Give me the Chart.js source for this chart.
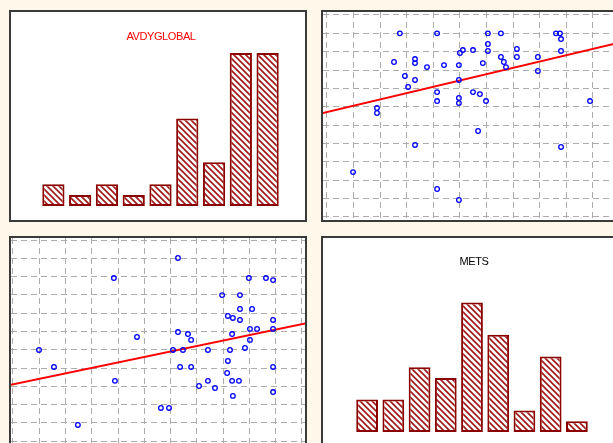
<!DOCTYPE html>
<html lang="en">
<head>
  <meta charset="UTF-8">
  <title>Scatter matrix</title>
  <script src="https://cdn.jsdelivr.net/npm/chart.js"></script>
  <style>
    body {
      margin: 0;
      padding: 0;
      width: 613px;
      height: 443px;
      overflow: hidden;
      background-color: #fdf8ea;
      font-family: "Liberation Sans", Arial, sans-serif;
    }
    .panel {
      position: absolute;
      width: 294px;
      height: 208px;
      background: #fff;
      border: 2px solid #3a3a3a;
    }
    .panel canvas {
      position: absolute;
      left: 0;
      top: 0;
    }
    .label {
      position: absolute;
      width: 100px;
      text-align: center;
      font-size: 11px;
      line-height: 11px;
      letter-spacing: -0.4px;
    }
    #p1 { left: 9px; top: 10px; }
    #p2 { left: 321px; top: 10px; }
    #p3 { left: 9px; top: 236px; }
    #p4 { left: 321px; top: 236px; }
  </style>
</head>
<body>
  <div class="panel" id="p1"><canvas id="hist-avdy" width="294" height="208"></canvas></div>
  <div class="panel" id="p2"><canvas id="scatter-upper" width="300" height="208"></canvas></div>
  <div class="panel" id="p3"><canvas id="scatter-lower" width="294" height="208"></canvas></div>
  <div class="panel" id="p4"><canvas id="hist-mets" width="294" height="208"></canvas></div>
  <div class="label" style="left:111px; top:31px; color:#ff0000;">AVDYGLOBAL</div>
  <div class="label" style="left:424px; top:256px; color:#000;">METS</div>
  <script>
    // histogram bins
    const bins = ['1', '2', '3', '4', '5', '6', '7', '8', '9'];
    const avdyCounts = [2, 1, 2, 1, 2, 8, 4, 14, 14];
    const metsCounts = [3, 3, 6, 5, 12, 9, 2, 7, 1];

    // upper right scatter (grid units)
    const upperX = [2.74, 4.14, 6.05, 6.54, 8.61, 8.76, 8.80, 6.05, 6.05, 5.11, 5.00, 5.49, 7.14, 7.14, 8.80,
      2.52, 3.31, 3.31, 3.76, 4.40, 4.96, 5.86, 6.54, 6.65, 6.73, 7.93, 7.93, 2.93, 3.31, 3.05, 4.96,
      4.14, 4.14, 4.96, 4.96, 5.49, 5.75, 5.98, 9.89, 1.88, 1.88, 5.68, 3.31, 8.80, 0.98, 4.14, 4.96];
    const upperY = [10.0, 10.0, 10.0, 10.0, 10.0, 10.0, 9.69, 9.42, 9.04, 9.09, 8.93, 9.09, 9.15, 8.71, 9.04,
      8.44, 8.60, 8.38, 8.16, 8.27, 8.27, 8.38, 8.71, 8.44, 8.16, 8.71, 7.95, 7.68, 7.46, 7.08, 7.46,
      6.80, 6.31, 6.48, 6.20, 6.80, 6.69, 6.31, 6.31, 5.93, 5.66, 4.68, 3.92, 3.81, 2.44, 1.52, 0.92];
    const upperFitX = [-0.2, 11.3];
    const upperFitY = [5.64, 9.60];

    // lower left scatter (grid units)
    const lowerX = [6.28, 3.84, 8.98, 9.63, 9.90, 7.96, 8.64, 8.64, 9.10, 8.18, 8.37, 8.64, 9.90, 9.02, 9.29,
      9.90, 6.28, 6.66, 6.78, 4.72, 8.34, 9.02, 0.99, 6.09, 6.47, 7.42, 8.26, 8.83, 8.18, 1.56, 6.36,
      6.78, 9.90, 8.15, 3.88, 7.42, 8.34, 8.60, 7.08, 7.69, 9.90, 8.37, 5.63, 5.94, 2.47];
    const lowerY = [10.02, 8.92, 8.92, 8.92, 8.81, 7.99, 7.99, 7.23, 7.23, 6.85, 6.74, 6.63, 6.63, 6.14, 6.14,
      6.14, 5.97, 5.86, 5.54, 5.70, 5.86, 5.54, 4.99, 4.99, 4.99, 4.99, 4.99, 5.10, 4.39, 4.06, 4.06,
      4.06, 4.06, 3.73, 3.30, 3.30, 3.30, 3.30, 3.02, 2.91, 2.69, 2.48, 1.82, 1.82, 0.89];
    const lowerFitX = [-0.2, 11.3];
    const lowerFitY = [3.05, 6.49];

    const gridTicks = [0, 1, 2, 3, 4, 5, 6, 7, 8, 9, 10, 11];

    function hatchPattern() {
      const s = 6;
      const pc = document.createElement('canvas');
      pc.width = s;
      pc.height = s;
      const g = pc.getContext('2d');
      g.fillStyle = '#ffffff';
      g.fillRect(0, 0, s, s);
      g.strokeStyle = '#a01818';
      g.lineWidth = 1.6;
      g.beginPath();
      g.moveTo(-1, -1); g.lineTo(s + 1, s + 1);
      g.moveTo(-s - 1, -1); g.lineTo(1, s + 1);
      g.moveTo(s - 1, -1); g.lineTo(2 * s + 1, s + 1);
      g.stroke();
      return g.createPattern(pc, 'repeat');
    }

    function createHistogram(canvasId, counts, padding) {
      const ctx = document.getElementById(canvasId).getContext('2d');
      return new Chart(ctx, {
        type: 'bar',
        data: {
          labels: bins,
          datasets: [{
            data: counts,
            backgroundColor: hatchPattern(),
            borderColor: '#8b0000',
            borderWidth: 2,
            borderSkipped: false,
            categoryPercentage: 1,
            barPercentage: 0.83
          }]
        },
        options: {
          responsive: false,
          animation: false,
          devicePixelRatio: 1,
          layout: { padding: padding },
          plugins: { legend: { display: false }, tooltip: { enabled: false } },
          scales: {
            x: { display: false },
            y: { display: false, min: 0, max: 15 }
          }
        }
      });
    }

    function gridAxis(min, max) {
      return {
        type: 'linear',
        min: min,
        max: max,
        afterBuildTicks: scale => { scale.ticks = gridTicks.map(v => ({ value: v })); },
        ticks: { display: false },
        grid: { color: '#acacac', lineWidth: 1, drawTicks: false },
        border: { display: false, dash: [6, 4] }
      };
    }

    function createScatter(canvasId, xs, ys, fitX, fitY, xRange, yRange) {
      const ctx = document.getElementById(canvasId).getContext('2d');
      return new Chart(ctx, {
        type: 'scatter',
        data: {
          datasets: [
            {
              data: xs.map((x, i) => ({ x: x, y: ys[i] })),
              pointStyle: 'circle',
              pointRadius: 2.3,
              pointBorderWidth: 1.3,
              borderColor: '#0000ff',
              backgroundColor: 'rgba(0,0,0,0)'
            },
            {
              data: fitX.map((x, i) => ({ x: x, y: fitY[i] })),
              showLine: true,
              borderColor: '#ff0000',
              borderWidth: 2,
              pointRadius: 0
            }
          ]
        },
        options: {
          responsive: false,
          animation: false,
          devicePixelRatio: 1,
          layout: { padding: 0, autoPadding: false },
          plugins: { legend: { display: false }, tooltip: { enabled: false } },
          scales: {
            x: gridAxis(xRange[0], xRange[1]),
            y: gridAxis(yRange[0], yRange[1])
          }
        }
      });
    }

    createHistogram('hist-avdy', avdyCounts, { left: 29, right: 24, top: 30, bottom: 14 });
    createHistogram('hist-mets', metsCounts, { left: 31, right: 27, top: 32, bottom: 14 });
    createScatter('scatter-upper', upperX, upperY, upperFitX, upperFitY, [-0.15, 11.13], [-0.17, 11.163]);
    createScatter('scatter-lower', lowerX, lowerY, lowerFitX, lowerFitY, [-0.076, 11.115], [-0.26, 11.11]);
  </script>
</body>
</html>
